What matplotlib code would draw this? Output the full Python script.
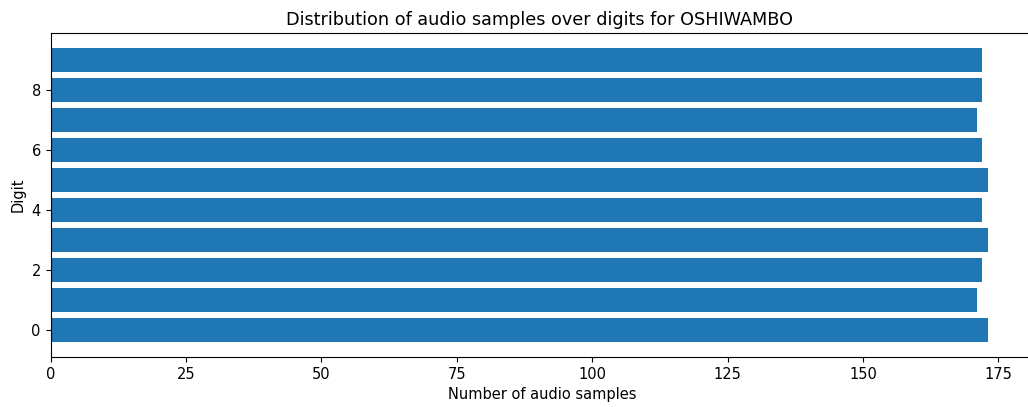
import matplotlib.pyplot as plt
import numpy as np

digits = np.arange(10)
samples = [173, 171, 172, 173, 172, 173, 172, 171, 172, 172]

plt.rcParams['font.size'] = 10.5

fig = plt.figure(figsize=(10.28, 4.07), dpi=100)
ax = fig.add_axes([50.5 / 1028, 50 / 407, 984 / 1028, 324 / 407])
ax.barh(digits, samples, color="#1f77b4")
ax.set_xlabel("Number of audio samples")
ax.set_ylabel("Digit")
ax.set_title("Distribution of audio samples over digits for OSHIWAMBO", fontsize=12.7, x=0.4965)

plt.savefig("out.png", dpi=100)
